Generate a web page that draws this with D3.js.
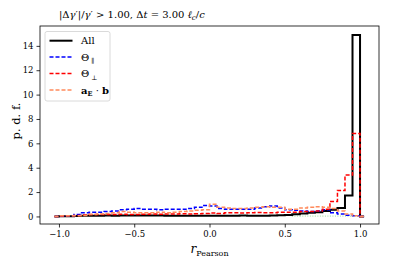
<!DOCTYPE html>
<html>
<head>
<meta charset="utf-8">
<script src="https://cdn.jsdelivr.net/npm/d3@7"></script>
<style>
  body { margin: 0; background: #fff; }
  svg text { font-family: "DejaVu Serif", "Liberation Serif", serif; }
</style>
</head>
<body>
<svg id="chart" width="399" height="266"></svg>
<script>
// histogram bins: width 0.05, left edges from -1.0 to 0.95
var binStart = -1.0, binWidth = 0.05;
// the step outlines run a little past the bins along the baseline
var rangeMin = -1.03, rangeMax = 1.027;

var allValues = [0.02,0.02,0.03,0.05,0.06,0.06,0.07,0.06,0.07,0.08,0.08,0.07,0.08,0.07,0.06,0.06,0.05,0.05,0.06,0.05,
                 0.05,0.06,0.05,0.06,0.07,0.06,0.06,0.05,0.08,0.1,0.12,0.18,0.25,0.3,0.35,0.45,0.55,0.7,1.72,14.9];
var paraValues = [0.02,0.05,0.15,0.3,0.35,0.35,0.4,0.45,0.55,0.6,0.65,0.6,0.6,0.55,0.6,0.6,0.6,0.65,0.75,0.9,
                  0.85,0.65,0.6,0.6,0.6,0.6,0.7,0.8,0.85,0.7,0.55,0.5,0.45,0.4,0.45,0.55,0.3,0.2,0.1,0.05];
var perpValues = [0.03,0.05,0.08,0.12,0.15,0.15,0.15,0.15,0.18,0.15,0.15,0.18,0.2,0.18,0.2,0.2,0.22,0.2,0.22,0.25,
                  0.28,0.25,0.3,0.3,0.28,0.3,0.32,0.3,0.3,0.35,0.35,0.35,0.4,0.4,0.45,0.6,1.23,2.13,3.4,6.8];
var aebValues = [0.05,0.05,0.05,0.08,0.15,0.2,0.25,0.3,0.4,0.35,0.3,0.3,0.3,0.35,0.3,0.35,0.4,0.45,0.5,0.55,
                 1.0,0.75,0.7,0.65,0.65,0.7,0.75,0.8,0.75,0.75,0.6,0.6,0.7,0.75,0.8,0.75,0.65,0.45,0.2,0.05];
// faint dotted trace near zero (not in legend), bins 0.55 .. 1.0
var faintStart = 0.55;
var faintValues = [0.03,0.03,0.03,0.03,0.03,0.03,0.03,0.03,0.03];

var xTicks = [-1.0, -0.5, 0.0, 0.5, 1.0];
var yTicks = [0, 2, 4, 6, 8, 10, 12, 14];

var svg = d3.select('#chart');
var mLeft = 40, mRight = 379, mTop = 26, mBottom = 224;

var x = d3.scaleLinear().domain([-1.126, 1.126]).range([mLeft, mRight]);
var y = d3.scaleLinear().domain([-0.62, 15.63]).range([mBottom, mTop]);

function stepPoints(start, vals, tails) {
  var pts = tails ? [[rangeMin, 0], [start, 0]] : [[start, 0]];
  vals.forEach(function (v, i) { pts.push([start + i * binWidth, v]); });
  var end = start + vals.length * binWidth;
  pts.push([end, vals[vals.length - 1]]);
  pts.push([end, 0]);
  if (tails) pts.push([rangeMax, 0]);
  return pts;
}

var stepLine = d3.line()
  .x(function (d) { return x(d[0]); })
  .y(function (d) { return y(d[1]); })
  .curve(d3.curveStepAfter);

var series = [
  { vals: faintValues, start: faintStart, tails: false, color: '#98d898', width: 1, dash: '1,1.5' },
  { vals: allValues, start: binStart, tails: true, color: '#000', width: 2, dash: null },
  { vals: paraValues, start: binStart, tails: true, color: '#0000ff', width: 1.5, dash: '4,2' },
  { vals: perpValues, start: binStart, tails: true, color: '#ff0000', width: 1.5, dash: '4,2' },
  { vals: aebValues, start: binStart, tails: true, color: '#ff8a5c', width: 1.5, dash: '4,2' }
];

var plot = svg.append('g');
series.forEach(function (s) {
  var p = plot.append('path')
    .attr('d', stepLine(stepPoints(s.start, s.vals, s.tails)))
    .attr('fill', 'none')
    .attr('stroke', s.color)
    .attr('stroke-width', s.width)
    .attr('stroke-linejoin', 'miter');
  if (s.dash) p.attr('stroke-dasharray', s.dash);
});

// axes
var xAxis = svg.append('g')
  .attr('transform', 'translate(0,' + mBottom + ')')
  .call(d3.axisBottom(x).tickValues(xTicks).tickSize(3.5).tickPadding(3)
    .tickFormat(function (d) { return d3.format('.1f')(d).replace('-', '\u2212'); }));
var yAxis = svg.append('g')
  .attr('transform', 'translate(' + mLeft + ',0)')
  .call(d3.axisLeft(y).tickValues(yTicks).tickSize(3.5).tickPadding(3));
[xAxis, yAxis].forEach(function (a) {
  a.select('.domain').remove();
  a.selectAll('text').attr('font-family', '"DejaVu Serif", serif').attr('font-size', 8.5).attr('fill', '#000');
  a.selectAll('line').attr('stroke', '#000').attr('stroke-width', 0.8);
});

svg.append('rect')
  .attr('x', mLeft).attr('y', mTop)
  .attr('width', mRight - mLeft).attr('height', mBottom - mTop)
  .attr('fill', 'none').attr('stroke', '#000').attr('stroke-width', 0.8);

// title (sits left of centre in the original)
var title = svg.append('text')
  .attr('x', 59).attr('y', 18)
  .attr('text-anchor', 'start').attr('font-size', 10);
title.append('tspan').text('|\u0394');
title.append('tspan').attr('font-style', 'italic').text('\u03b3');
title.append('tspan').text('\u2032|/');
title.append('tspan').attr('font-style', 'italic').text('\u03b3');
title.append('tspan').text('\u2032 > 1.00,  \u0394');
title.append('tspan').attr('font-style', 'italic').text('t');
title.append('tspan').text(' = 3.00 ');
title.append('tspan').attr('font-style', 'italic').text('\u2113');
title.append('tspan').attr('font-style', 'italic').attr('font-size', 7).attr('dy', 2).text('c');
title.append('tspan').attr('dy', -2).text('/');
title.append('tspan').attr('font-style', 'italic').text('c');

// axis labels
svg.append('text')
  .attr('transform', 'translate(20,' + ((mTop + mBottom) / 2 - 4) + ') rotate(-90)')
  .attr('text-anchor', 'middle').attr('font-size', 11.5)
  .text('p. d. f.');
var xl = svg.append('text')
  .attr('x', (mLeft + mRight) / 2).attr('y', 253)
  .attr('text-anchor', 'middle').attr('font-size', 12);
xl.append('tspan').attr('font-style', 'italic').text('r');
xl.append('tspan').attr('font-size', 8).attr('dy', 2.5).text('Pearson');

// legend
var legend = svg.append('g');
legend.append('rect')
  .attr('x', 45).attr('y', 31.5).attr('width', 65).attr('height', 69.5)
  .attr('rx', 2).attr('fill', '#fff').attr('fill-opacity', 0.8)
  .attr('stroke', '#d0d0d0').attr('stroke-width', 0.8);
var legendItems = [
  { color: '#000', width: 2, dash: null, y: 40.7 },
  { color: '#0000ff', width: 1.5, dash: '4,2', y: 57 },
  { color: '#ff0000', width: 1.5, dash: '4,2', y: 73.5 },
  { color: '#ff8a5c', width: 1.5, dash: '4,2', y: 90 }
];
legendItems.forEach(function (it) {
  var l = legend.append('line')
    .attr('x1', 49.5).attr('x2', 72.5).attr('y1', it.y).attr('y2', it.y)
    .attr('stroke', it.color).attr('stroke-width', it.width);
  if (it.dash) l.attr('stroke-dasharray', it.dash);
});
function legendText(yy) {
  return legend.append('text').attr('x', 81).attr('y', yy + 3.5).attr('font-size', 10);
}
legendText(40.7).text('All');
var t1 = legendText(57);
t1.append('tspan').text('\u0398');
t1.append('tspan').attr('font-size', 6.5).attr('dy', 2.5).text(' \u2225');
var t2 = legendText(73.5);
t2.append('tspan').text('\u0398');
t2.append('tspan').attr('font-size', 6.5).attr('dy', 2.5).text(' \u22a5');
var t3 = legendText(90);
t3.append('tspan').attr('font-weight', 'bold').text('a');
t3.append('tspan').attr('font-weight', 'bold').attr('font-size', 6.5).attr('dy', 2.5).text('E');
t3.append('tspan').attr('dy', -2.5).text(' \u00b7 ');
t3.append('tspan').attr('font-weight', 'bold').text('b');
</script>
</body>
</html>
